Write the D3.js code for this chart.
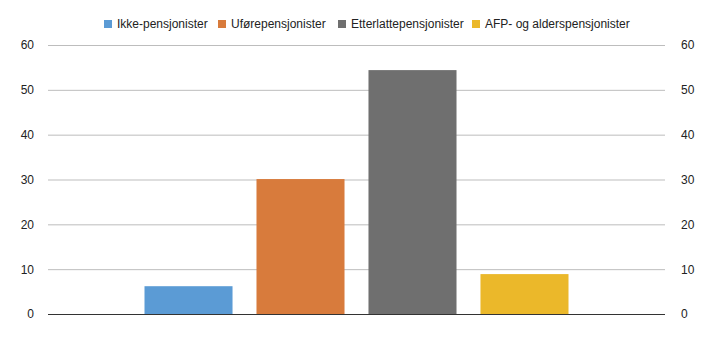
<!DOCTYPE html>
<html>
<head>
<meta charset="utf-8">
<script src="https://cdn.jsdelivr.net/npm/d3@7"></script>
<style>
  html, body { margin: 0; padding: 0; background: #fff; }
  svg { display: block; font-family: "Liberation Sans", Arial, sans-serif; }
</style>
</head>
<body>
<svg id="chart" width="720" height="341"></svg>
<script>
// Pensjonistgrupper, andel (prosent)
const series = ["Ikke-pensjonister", "Uførepensjonister", "Etterlattepensjonister", "AFP- og alderspensjonister"];
const values = [6.2, 30.1, 54.4, 8.9];
const colors = ["#5b9bd5", "#d87b3c", "#6f6f6f", "#ebb82a"];
const yTicks = [0, 10, 20, 30, 40, 50, 60];

const svg = d3.select("#chart");
const margin = { left: 48, right: 55, top: 45, bottom: 27 };
const W = 720, H = 341;
const x0Left = margin.left, x0Right = W - margin.right;
const yTop = margin.top, yBottom = H - margin.bottom;

const y = d3.scaleLinear().domain([0, 60]).range([yBottom, yTop]);

// single group holding the four series bars
const x0 = d3.scaleBand().domain(["g"]).range([x0Left, x0Right]).paddingInner(0).paddingOuter(0.2276);
const x1 = d3.scaleBand().domain(series).range([0, x0.bandwidth()]).paddingInner(0.214).paddingOuter(0);

// gridlines
svg.append("g")
  .selectAll("line")
  .data(yTicks.filter(d => d > 0))
  .join("line")
  .attr("x1", x0Left).attr("x2", x0Right)
  .attr("y1", d => y(d) + 0.5).attr("y2", d => y(d) + 0.5)
  .attr("stroke", "#bdbdbd").attr("stroke-width", 1);

// bars
svg.append("g")
  .attr("transform", `translate(${x0("g")},0)`)
  .selectAll("rect")
  .data(series.map((s, i) => ({ s, v: values[i], c: colors[i] })))
  .join("rect")
  .attr("x", d => x1(d.s))
  .attr("width", x1.bandwidth())
  .attr("y", d => y(d.v))
  .attr("height", d => y(0) - y(d.v))
  .attr("fill", d => d.c);

// baseline
svg.append("line")
  .attr("x1", x0Left).attr("x2", x0Right)
  .attr("y1", y(0) + 0.5).attr("y2", y(0) + 0.5)
  .attr("stroke", "#333").attr("stroke-width", 1.2);

// left axis labels
const leftAxis = d3.axisLeft(y).tickValues(yTicks).tickSize(0).tickPadding(14);
svg.append("g")
  .attr("transform", `translate(${x0Left},0)`)
  .call(leftAxis)
  .call(g => g.select(".domain").remove())
  .call(g => g.selectAll("text").attr("font-size", 12).attr("fill", "#222")
    .attr("font-family", "'Liberation Sans', Arial, sans-serif"));

// right axis labels
const rightAxis = d3.axisRight(y).tickValues(yTicks).tickSize(0).tickPadding(16);
svg.append("g")
  .attr("transform", `translate(${x0Right},0)`)
  .call(rightAxis)
  .call(g => g.select(".domain").remove())
  .call(g => g.selectAll("text").attr("font-size", 12).attr("fill", "#222")
    .attr("font-family", "'Liberation Sans', Arial, sans-serif"));

// legend
const legendX = [104, 218, 338, 472];
const legend = svg.append("g").selectAll("g")
  .data(series)
  .join("g")
  .attr("transform", (d, i) => `translate(${legendX[i]},20)`);
legend.append("rect")
  .attr("width", 8).attr("height", 8)
  .attr("fill", (d, i) => colors[i]);
legend.append("text")
  .attr("x", 13).attr("y", 4)
  .attr("dy", "0.35em")
  .attr("font-size", 12)
  .attr("fill", "#222")
  .text(d => d);
</script>
</body>
</html>
